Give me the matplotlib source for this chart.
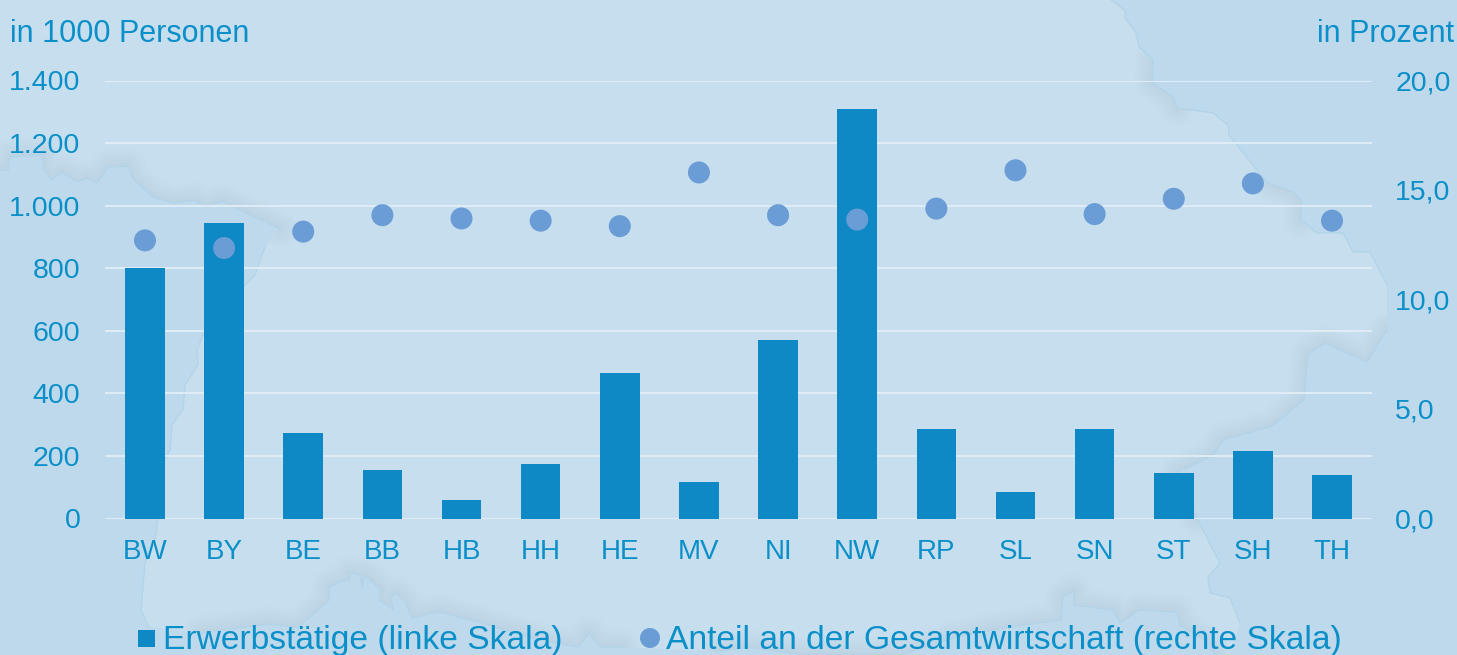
import matplotlib
matplotlib.use("Agg")
import matplotlib.pyplot as plt
from matplotlib.patches import Polygon, Rectangle
from matplotlib.ticker import FuncFormatter

states = ["BW","BY","BE","BB","HB","HH","HE","MV","NI","NW","RP","SL","SN","ST","SH","TH"]
workers = [800,945,273,155,59,174,465,117,570,1309,286,85,286,145,216,139]
share = [12.7,12.35,13.1,13.85,13.7,13.6,13.35,15.8,13.85,13.65,14.15,15.9,13.9,14.6,15.3,13.6]
left_ticks = [0,200,400,600,800,1000,1200,1400]
right_ticks = [0,5,10,15,20]

W, H = 1457, 655
BLUE = "#0f89c5"
TXT = "#0a8fc8"
DOT = "#6a9cd6"
LAND = "#c7deee"
SEA = "#bed9ec"
COAST = "#b2d3e8"
plt.rcParams["font.family"] = ["Liberation Sans", "DejaVu Sans"]

fig = plt.figure(figsize=(W/100, H/100), dpi=100, facecolor=SEA)

# decorative map in the backdrop, in figure pixels
nw_coast = [(0,170),(8,170),(10,157),(42,155),(44,170),(52,180),(62,172),(78,182),(87,178),(97,183),
            (108,167),(128,166),(134,180),(155,198),(175,203),(195,200),(205,207),(222,201),(245,212),(280,229)]
w_coast = [(265,247),(255,275),(235,295),(203,335),(197,350),(198,365),(185,385),(183,410),(172,425),
           (170,450),(160,470),(158,518),(155,540),(145,563),(141,610),(149,627)]
s_coast1 = [(200,633),(268,624),(298,627),(318,610),(329,600),(329,587),(339,582),(350,580),(350,573),
            (360,575),(362,587),(365,575),(381,590),(379,600),(394,610),(390,598),(396,593),(406,603),
            (411,618),(440,612),(478,622),(540,640),(578,647),(589,633),(600,647),(623,647)]
s_coast2 = [(715,652),(749,647),(802,655),(900,655),(956,637),(1009,627),(1061,620),(1063,597),(1074,591),
            (1074,605),(1113,610),(1120,623),(1139,610),(1177,612),(1180,625),(1205,640),(1215,655)]
e_coast = [(1240,623),(1230,598),(1210,593),(1208,577),(1220,563),(1213,550),(1197,518),(1178,472),(1213,455),
           (1223,440),(1272,426),(1304,400),(1308,354),(1325,343),(1367,362),(1387,330)]
ne_coast = [(1387,285),(1370,252),(1353,252),(1343,233),(1317,233),(1301,220),(1301,200),(1293,192),(1267,182),
            (1257,170),(1229,135),(1228,125),(1213,113),(1177,108),(1173,97),(1152,82),(1153,60),(1139,47),
            (1136,33),(1125,18),(1125,10),(1111,0)]
outline = nw_coast + w_coast + s_coast1 + s_coast2 + [(1230,655)] + e_coast + ne_coast + [(0,0)]

bg = fig.add_axes([0, 0, 1, 1], zorder=0)
bg.set_xlim(0, W); bg.set_ylim(H, 0); bg.axis("off")
land = Polygon(outline, closed=True, facecolor=LAND, edgecolor="none")
bg.add_patch(land)
# soft shadow along parts of the coast, inside the land
for seg in (nw_coast, s_coast1, s_coast2, e_coast[6:], ne_coast[5:9], ne_coast[13:17]):
    xs, ys = zip(*seg)
    for lw in (5, 10, 15, 20, 25):
        ln, = bg.plot(xs, ys, color="#9fb6c8", lw=lw, alpha=0.03, solid_capstyle="round", solid_joinstyle="round")
        ln.set_clip_path(land)
for seg in (nw_coast, w_coast, s_coast1, s_coast2, e_coast, ne_coast):
    xs, ys = zip(*seg)
    bg.plot(xs, ys, color=COAST, lw=0.9)

ax = fig.add_axes([105.4/W, 1-518.5/H, (1371.6-105.4)/W, 438/H], zorder=1)
ax.patch.set_visible(False)
x = list(range(len(states)))
ax.set_axisbelow(True)
ax.grid(axis="y", color="#e3eef6", lw=1.3)
ax.bar(x, workers, width=0.5, color=BLUE, zorder=2)
ax.set_xlim(-0.5, len(states)-0.5)
ax.set_ylim(0, 1400)
ax.set_yticks(left_ticks)
ax.yaxis.set_major_formatter(FuncFormatter(lambda v, _: f"{int(v):,}".replace(",", ".")))
ax.set_xticks(x, states)
ax.tick_params(axis="both", length=0, labelsize=20.5, labelcolor=TXT)
ax.tick_params(axis="x", labelsize=20, pad=15)
ax.tick_params(axis="y", pad=18)
for s in ax.spines.values():
    s.set_visible(False)

ax2 = ax.twinx()
ax2.patch.set_visible(False)
ax2.set_ylim(0, 20)
ax2.set_yticks(right_ticks)
ax2.yaxis.set_major_formatter(FuncFormatter(lambda v, _: f"{v:.1f}".replace(".", ",")))
ax2.tick_params(axis="y", length=0, labelsize=20.5, labelcolor=TXT, pad=17)
for s in ax2.spines.values():
    s.set_visible(False)
ax2.scatter(x, share, s=251, color=DOT, edgecolors="none", zorder=3, clip_on=False)

fig.text(10/W, 1-42/H, "in 1000 Personen", color=TXT, fontsize=22, va="baseline", ha="left")
fig.text(1454/W, 1-42/H, "in Prozent", color=TXT, fontsize=22, va="baseline", ha="right")

# legend
top = fig.add_axes([0, 0, 1, 1], zorder=2)
top.set_xlim(0, W); top.set_ylim(H, 0); top.axis("off")
top.add_patch(Rectangle((138, 630), 17, 17, facecolor=BLUE, edgecolor="none"))
top.scatter([650], [638], s=(20*0.72)**2, color=DOT, edgecolors="none")
top.text(163, 649, "Erwerbstätige (linke Skala)", color=TXT, fontsize=24.2, va="baseline", ha="left")
top.text(666, 649, "Anteil an der Gesamtwirtschaft (rechte Skala)", color=TXT, fontsize=24.2, va="baseline", ha="left")

fig.savefig("out.png", dpi=100, facecolor=SEA)
